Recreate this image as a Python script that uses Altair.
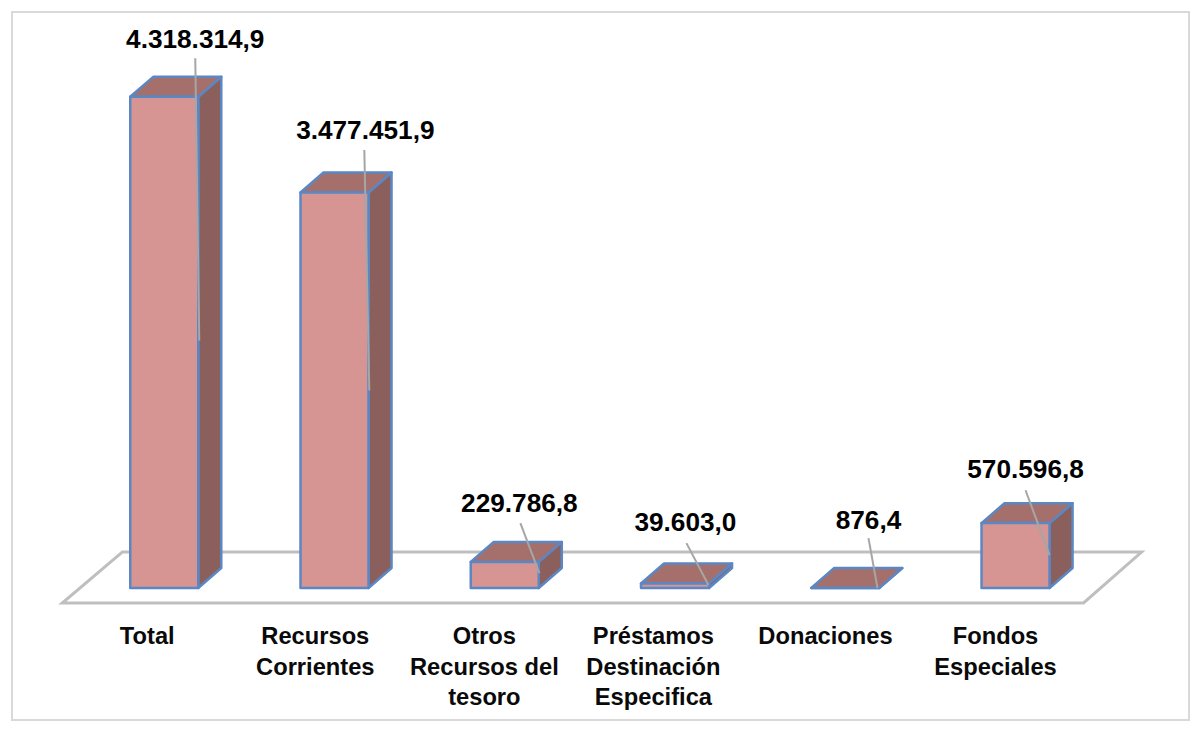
import altair as alt
import pandas as pd

# --- values ---
categories = ["Total", "Recursos Corrientes", "Otros Recursos del tesoro",
              "Préstamos Destinación Especifica", "Donaciones", "Fondos Especiales"]
values = [4318314.9, 3477451.9, 229786.8, 39603.0, 876.4, 570596.8]
value_labels = ["4.318.314,9", "3.477.451,9", "229.786,8", "39.603,0", "876,4", "570.596,8"]
tick_labels = ["Total", "Recursos\nCorrientes", "Otros\nRecursos del\ntesoro",
               "Préstamos\nDestinación\nEspecifica", "Donaciones", "Fondos\nEspeciales"]

# --- layout: category slot units and value units ---
W, H = 1185, 716
PX_X = 170.2            # px per category slot
PX_Y = 1 / 8770.0       # px per value unit
X0, Y0 = 164.0, 588.0   # picture px of category 0 centre / value 0


def xd(px):
    return (px - X0) / PX_X


def yd(py):
    return (Y0 - py) / PX_Y


half = 34 / PX_X
dx = 23 / PX_X
dy = 20 / PX_Y
x_dom = [xd(10.8), xd(1189.4)]
y_dom = [yd(721.3), yd(9.6)]

x_scale = alt.Scale(domain=x_dom, nice=False, zero=False, padding=0)
y_scale = alt.Scale(domain=y_dom, nice=False, zero=False, padding=0)
X = alt.X("x:Q", scale=x_scale, axis=None)
Y = alt.Y("y:Q", scale=y_scale, axis=None)

FRONT, TOP, SIDE, EDGE = "#D69492", "#A5706C", "#8A5F5C", "#5B87C4"
FLOOR, LEAD, FRAME = "#BFBFBF", "#A6A6A6", "#D9D9D9"

front, side, top = [], [], []
for i, (c, v) in enumerate(zip(categories, values)):
    front.append({"c": c, "x": i - half, "x2": i + half, "y": 0, "y2": v})
    side += [{"c": c, "x": i + half, "y": 0, "y2": v},
             {"c": c, "x": i + half + dx, "y": dy, "y2": v + dy}]
    top += [{"c": c, "y": v, "x": i - half, "x2": i + half},
            {"c": c, "y": v + dy, "x": i - half + dx, "x2": i + half + dx}]

floor = pd.DataFrame([
    {"y": yd(603), "x": xd(62), "x2": xd(1083)},
    {"y": yd(552), "x": xd(122), "x2": xd(1141)},
])
floor_layer = alt.Chart(floor).mark_area(
    orient="horizontal", fill="white", stroke=FLOOR, strokeWidth=3
).encode(y=Y, x=X, x2="x2:Q")

side_layer = alt.Chart(pd.DataFrame(side)).mark_area(
    fill=SIDE, stroke=EDGE, strokeWidth=2.5, strokeJoin="round"
).encode(x=X, y=Y, y2="y2:Q", detail="c:N")
top_layer = alt.Chart(pd.DataFrame(top)).mark_area(
    orient="horizontal", fill=TOP, stroke=EDGE, strokeWidth=2.5, strokeJoin="round"
).encode(y=Y, x=X, x2="x2:Q", detail="c:N")
front_layer = alt.Chart(pd.DataFrame(front)).mark_rect(
    fill=FRONT, stroke=EDGE, strokeWidth=2.5, strokeJoin="round"
).encode(x=X, x2="x2:Q", y=Y, y2="y2:Q")

# leader lines between value labels and bars
lead_start = [(195, 57), (364, 149), (520, 523), (686, 543), (868, 538), (1025, 490)]
lead_end = [(199, 340), (369, 390), (539, 573), (708, 585), (877, 588), (1049, 555)]
lead = []
for c, a, b in zip(categories, lead_start, lead_end):
    lead += [{"c": c, "x": xd(a[0]), "y": yd(a[1]), "o": 0},
             {"c": c, "x": xd(b[0]), "y": yd(b[1]), "o": 1}]
lead_layer = alt.Chart(pd.DataFrame(lead)).mark_line(
    color=LEAD, strokeWidth=2
).encode(x=X, y=Y, detail="c:N", order="o:Q")

# value labels
label_pos = [(195, 46.5), (365, 137.5), (519, 511.5), (685, 530.5), (868, 528.5), (1025, 477.5)]
labels = pd.DataFrame([{"x": xd(p[0]), "y": yd(p[1]), "t": t}
                       for p, t in zip(label_pos, value_labels)])
FONT = "Liberation Sans"
label_layer = alt.Chart(labels).mark_text(
    font=FONT, fontWeight="bold", fontSize=26.2, color="#000000",
    align="center", baseline="alphabetic"
).encode(x=X, y=Y, text="t:N")

# category labels
tick_pos = [(147, 644), (315, 644), (484, 644), (653, 644), (825, 644), (995, 644)]
ticks = pd.DataFrame([{"x": xd(p[0]), "y": yd(p[1]), "t": t}
                      for p, t in zip(tick_pos, tick_labels)])
tick_layer = alt.Chart(ticks).mark_text(
    font=FONT, fontWeight="bold", fontSize=23.7, color="#0A0A0A",
    align="center", baseline="alphabetic", lineBreak="\n", lineHeight=30.7
).encode(x=X, y=Y, text="t:N")

# picture frame
frame = pd.DataFrame([
    {"y": yd(10.6), "x": xd(11.8), "x2": xd(1188.4)},
    {"y": yd(720.3), "x": xd(11.8), "x2": xd(1188.4)},
])
frame_layer = alt.Chart(frame).mark_area(
    orient="horizontal", fill="white", stroke=FRAME, strokeWidth=2
).encode(y=Y, x=X, x2="x2:Q")

chart = alt.layer(
    frame_layer, floor_layer, side_layer, top_layer, front_layer,
    lead_layer, label_layer, tick_layer
).properties(
    width=W, height=H, background="white",
    padding={"left": 0, "top": 0, "right": 0, "bottom": 0},
    autosize=alt.AutoSizeParams(type="fit", contains="padding")
).configure_view(stroke=None)

chart.save("out.html", embed_options={"renderer": "svg", "actions": False})
